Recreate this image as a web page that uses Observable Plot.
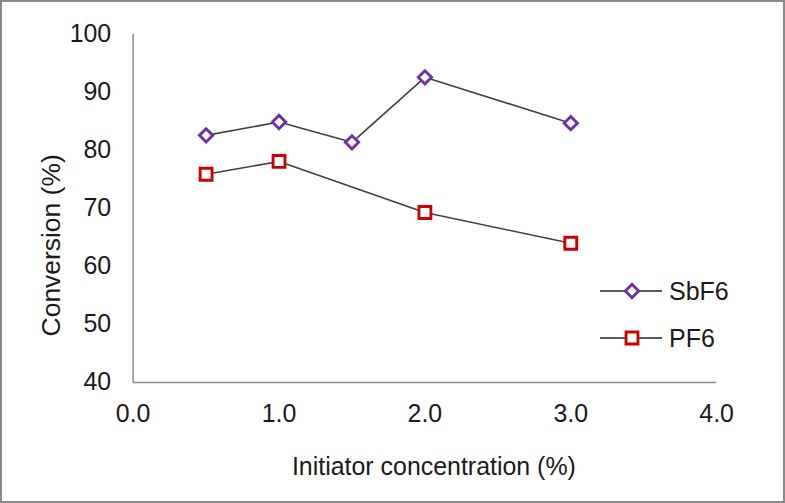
<!DOCTYPE html>
<html>
<head>
<meta charset="utf-8">
<script src="https://cdn.jsdelivr.net/npm/d3@7"></script>
<script src="https://cdn.jsdelivr.net/npm/@observablehq/plot@0.6"></script>
<style>
  html, body { margin: 0; padding: 0; background: #fff; }
  #wrap { position: relative; width: 785px; height: 503px; box-sizing: border-box; border: 2px solid #8a8a8a; overflow: hidden; }
  #chart { position: absolute; left: -2px; top: -2px; }
  #legend { position: absolute; left: -2px; top: -2px; pointer-events: none; }
</style>
</head>
<body>
<div id="wrap"><div id="chart"></div><svg id="legend" width="785" height="503"></svg></div>
<script>
const concentration = [0.5, 1.0, 1.5, 2.0, 3.0];
const seriesNames = ["SbF6", "PF6"];
const sbf6Values = [82.6, 84.9, 81.4, 92.6, 84.7];
const pf6Conc = [0.5, 1.0, 2.0, 3.0];
const pf6Values = [75.9, 78.1, 69.3, 64.0];
const xTicks = [0, 1, 2, 3, 4];
const yTicks = [40, 50, 60, 70, 80, 90, 100];
const xTitle = "Initiator concentration (%)";
const yTitle = "Conversion (%)";
const colors = {SbF6: "#7030A0", PF6: "#CC0000"};
const symbols = {SbF6: "diamond2", PF6: "square2"};

const sbf6 = concentration.map((c, i) => ({x: c, y: sbf6Values[i], s: "SbF6"}));
const pf6 = pf6Conc.map((c, i) => ({x: c, y: pf6Values[i], s: "PF6"}));

const font = "'Liberation Sans', Arial, sans-serif";
const ink = "#1a1a1a";
const rDiamond = 6.0, rSquare = 7.6, markStroke = 2.9;

const chart = Plot.plot({
  width: 785,
  height: 503,
  marginLeft: 133,
  marginRight: 67,
  marginTop: 34,
  marginBottom: 120,
  style: {fontFamily: font, fontSize: "25px", color: ink, background: "transparent"},
  x: {domain: [0, 4], ticks: xTicks},
  y: {domain: [40, 100], ticks: yTicks},
  marks: [
    Plot.axisX({ticks: xTicks, tickSize: 0, tickPadding: 22, tickFormat: d3.format(".1f"), label: null, fontSize: 25}),
    Plot.axisY({ticks: yTicks, tickSize: 0, tickPadding: 22, label: null, fontSize: 25}),
    Plot.ruleY([40], {stroke: "#8c8c8c", strokeWidth: 1.5}),
    Plot.ruleX([0], {stroke: "#8c8c8c", strokeWidth: 1.5}),
    Plot.line(sbf6, {x: "x", y: "y", stroke: "#404040", strokeWidth: 1.6}),
    Plot.line(pf6, {x: "x", y: "y", stroke: "#404040", strokeWidth: 1.6}),
    Plot.dot(sbf6, {x: "x", y: "y", symbol: symbols.SbF6, r: rDiamond, stroke: colors.SbF6, strokeWidth: markStroke, fill: "white"}),
    Plot.dot(pf6, {x: "x", y: "y", symbol: symbols.PF6, r: rSquare, stroke: colors.PF6, strokeWidth: markStroke, fill: "white"}),
    Plot.text([xTitle], {frameAnchor: "bottom", dy: 93, dx: 9, fontSize: 25, fill: ink}),
    Plot.text([yTitle], {frameAnchor: "left", textAnchor: "middle", lineAnchor: "middle", rotate: -90, dx: -82, dy: 37, fontSize: 26.5, fill: ink})
  ]
});
document.getElementById("chart").appendChild(chart);

// Legend
const lg = d3.select("#legend");
const legendRows = [{name: seriesNames[0], y: 291}, {name: seriesNames[1], y: 338}];
const symGen = {SbF6: d3.symbol(d3.symbolDiamond2, Math.PI * rDiamond * rDiamond), PF6: d3.symbol(d3.symbolSquare2, Math.PI * rSquare * rSquare)};
legendRows.forEach(r => {
  const g = lg.append("g");
  g.append("line").attr("x1", 600).attr("x2", 662).attr("y1", r.y).attr("y2", r.y).attr("stroke", "#222").attr("stroke-width", 1.6);
  g.append("path").attr("d", symGen[r.name]()).attr("transform", `translate(632,${r.y})`).attr("fill", "white").attr("stroke", colors[r.name]).attr("stroke-width", markStroke);
  g.append("text").attr("x", 669).attr("y", r.y).attr("dy", "0.35em").attr("font-family", font).attr("font-size", 25).attr("fill", ink).text(r.name);
});
</script>
</body>
</html>
